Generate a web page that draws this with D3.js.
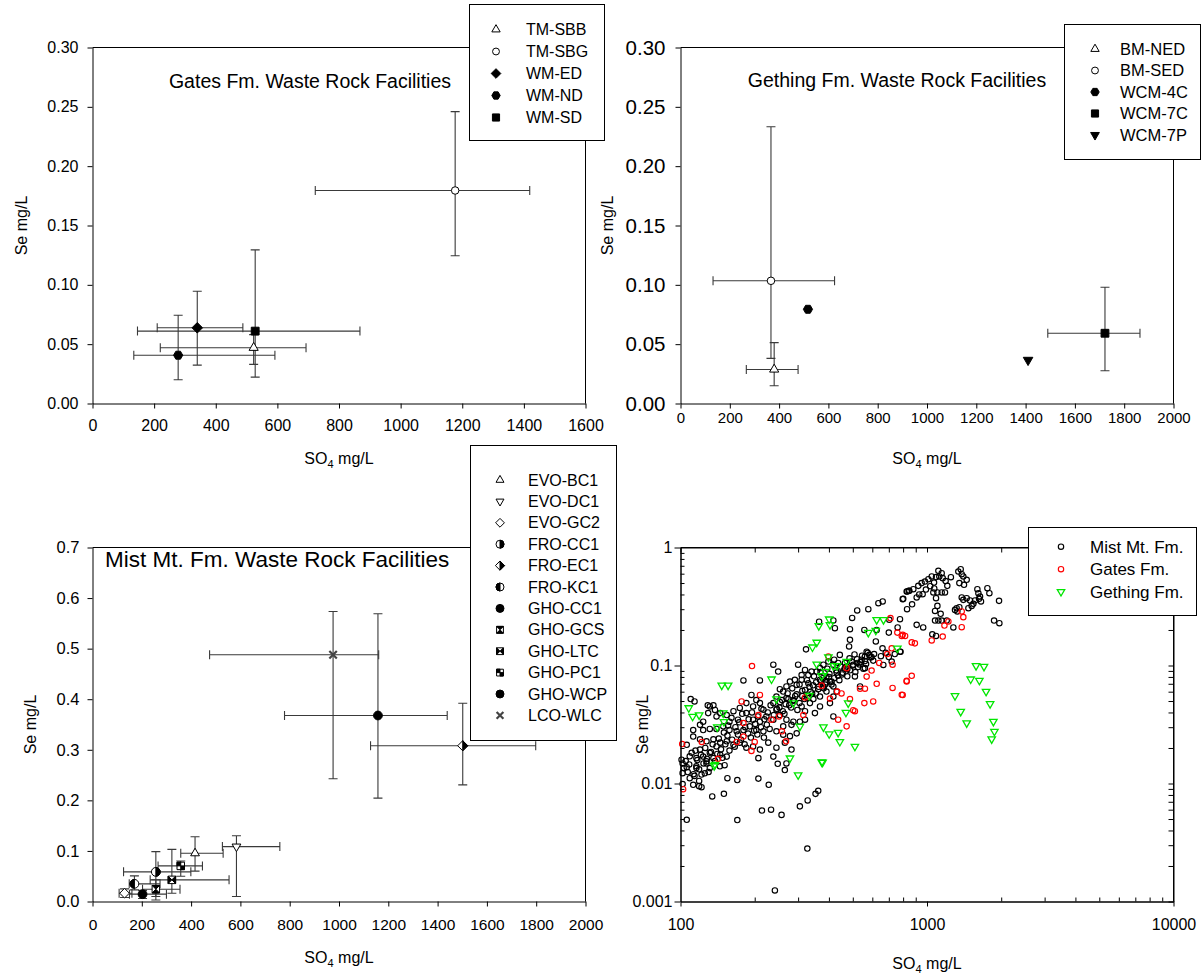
<!DOCTYPE html>
<html><head><meta charset="utf-8">
<script src="https://cdn.jsdelivr.net/npm/d3@7"></script>
<style>
body{margin:0;background:#fff;}
svg text{font-family:Arial,"Liberation Sans",Helvetica,sans-serif;fill:#000;}
</style></head><body>
<script>
// ---------- Gates Fm. waste rock facilities (mean and range) ----------
const gatesSites  = ["TM-SBB","TM-SBG","WM-ED","WM-ND","WM-SD"];
const gatesMarks  = ["triUp","circle","diamondFill","hexFill","squareFill"];
const gatesSO4    = [523, 1177, 340, 278, 528];
const gatesSO4Lo  = [220, 723, 210, 134, 146];
const gatesSO4Hi  = [693, 1419, 488, 592, 868];
const gatesSe     = [0.047, 0.1795, 0.0638, 0.0407, 0.061];
const gatesSeLo   = [0.033, 0.1245, 0.0323, 0.020, 0.0222];
const gatesSeHi   = [0.058, 0.246, 0.0946, 0.0744, 0.1295];

// ---------- Gething Fm. waste rock facilities ----------
const gethingSites = ["BM-NED","BM-SED","WCM-4C","WCM-7C","WCM-7P"];
const gethingMarks = ["triUp","circle","hexFill","squareFill","triDownFill"];
const gethingSO4   = [380, 367, 517, 1722, 1410];
const gethingSO4Lo = [267, 132, null, 1490, null];
const gethingSO4Hi = [477, 625, null, 1864, null];
const gethingSe    = [0.0287, 0.1034, 0.0794, 0.0592, 0.0366];
const gethingSeLo  = [0.0149, 0.038, null, 0.0276, null];
const gethingSeHi  = [0.0513, 0.2332, null, 0.098, null];

// ---------- Mist Mt. Fm. waste rock facilities ----------
const mistSites = ["EVO-BC1","EVO-DC1","EVO-GC2","FRO-CC1","FRO-EC1","FRO-KC1","GHO-CC1","GHO-GCS","GHO-LTC","GHO-PC1","GHO-WCP","LCO-WLC"];
const mistMarks = ["triUp","triDown","diamond","circleHalfR","diamondHalfR","circleHalfL","dot","sqHourglass","sqBowtie","sqChecker","dot","cross"];
const mistSO4   = [416, 584, 130, 257, 1502, 170, 203, 257, 322, 358, 1158, 976];
const mistSO4Lo = [358, 527, 108, 126, 1128, 149, 150, 203, 234, 266, 779, 475];
const mistSO4Hi = [530, 760, 160, 399, 1798, 274, 300, 355, 554, 446, 1439, 1161];
const mistSe    = [0.0954, 0.1086, 0.0164, 0.0586, 0.308, 0.0349, 0.0145, 0.0243, 0.0428, 0.0704, 0.3678, 0.4878];
const mistSeLo  = [0.06, 0.0099, 0.008, 0.003, 0.2307, 0.023, 0.006, 0.0099, 0.0164, 0.05, 0.2044, 0.2426];
const mistSeHi  = [0.128, 0.130, 0.025, 0.0987, 0.392, 0.0507, 0.022, 0.043, 0.103, 0.08, 0.569, 0.5735];

// ---------- individual samples [SO4 mg/L, Se mg/L] ----------
const mistSamples = [
 [832,0.424],[844,0.43],[797,0.365],[661,0.349],[635,0.337],[578,0.30],[521,0.293],[497,0.253],[417,0.241],[423,0.207],
 [365,0.235],[487,0.203],[557,0.2],[625,0.2],[703,0.244],[777,0.247],[781,0.131],[719,0.108],[665,0.101],[560,0.095],
 [487,0.165],[483,0.145],[323,0.137],[569,0.131],[583,0.123],[560,0.119],[596,0.118],[543,0.112],[605,0.11],[521,0.105],
 [502,0.1015],[472,0.098],[443,0.123],[436,0.105],[417,0.1015],[398,0.108],[380,0.1015],[368,0.095],[357,0.0889],[340,0.0889],
 [330,0.083],[320,0.0917],[310,0.083],[310,0.0756],[300,0.1015],[291,0.0756],[278,0.0731],[296,0.0685],[330,0.0706],[368,0.0756],
 [391,0.0807],[404,0.0732],[380,0.0664],[417,0.0664],[391,0.0602],[430,0.0602],[417,0.0546],[368,0.0546],[346,0.052],[335,0.048],
 [368,0.045],[404,0.048],[351,0.0395],[320,0.041],[310,0.045],[287,0.051],[269,0.053],[261,0.0602],[253,0.063],[245,0.0546],
 [269,0.0664],[238,0.048],[245,0.0422],[253,0.038],[269,0.0347],[287,0.0334],[305,0.0334],[320,0.0347],[282,0.0314],[261,0.0305],
 [238,0.0347],[223,0.037],[217,0.0422],[210,0.048],[203,0.051],[194,0.0563],[197,0.045],[185,0.048],[210,0.0334],[197,0.0347],
 [185,0.0395],[174,0.0437],[164,0.041],[171,0.0347],[158,0.0334],[154,0.038],[145,0.0395],[140,0.037],[131.5,0.045],[136,0.046],
 [138,0.042],[129.5,0.0395],[123.6,0.0334],[120,0.0314],[112.6,0.0284],[123.6,0.0284],[131.5,0.029],[140,0.029],[149,0.0305],[158,0.0284],
 [169,0.0277],[180,0.0284],[191,0.0305],[203,0.0284],[217,0.0277],[230,0.029],[245,0.0277],[261,0.0259],[278,0.0252],[296,0.0266],
 [112.6,0.025],[120,0.0237],[127.5,0.0228],[136,0.0237],[145,0.0222],[154,0.0228],[164,0.0213],[174,0.0222],[185,0.0201],[197,0.0206],
 [210,0.0194],[227,0.0222],[245,0.0201],[265,0.0222],[282,0.0194],[207,0.0164],[238,0.0169],[269,0.0148],[106,0.0213],[101,0.0159],
 [102,0.0148],[111,0.0182],[116,0.0164],[123.6,0.0169],[131.5,0.0182],[120,0.0194],[127.5,0.0154],[136,0.0164],[145,0.0175],[154,0.0169],
 [140,0.0206],[116,0.014],[108.5,0.0145],[510,0.0807],[535,0.0664],[417,0.037],[110,0.052],[114,0.0496],[129,0.046],[180,0.0747],
 [210,0.0747],[238,0.1015],[249,0.0889],
 [106,0.00492],[134.5,0.00776],[150,0.00818],[155,0.0111],[170,0.0107],[170,0.0049],[207,0.011],[214,0.0059],[228,0.00975],[233,0.006],
 [257,0.00542],[265,0.013],[248,0.0147],[305,0.0064],[328,0.00718],[353,0.00817],[362,0.00867],[327,0.00281],[241.5,0.00124],[102,0.01224],
 [102,0.0099],[106,0.01375],[109,0.0111],[112.6,0.00975],[114,0.0116],[119,0.0095],[121.7,0.0093],[116,0.0135],[121.7,0.0119],[125.5,0.0122],
 [119,0.0105],[127.5,0.0148],[131.5,0.0135],[144.5,0.014],[151,0.0143],
 [801,0.367],[827,0.424],[848,0.43],[880,0.443],[908,0.377],[922,0.473],[951,0.499],[960,0.402],[981,0.515],[1013,0.539],
 [1045,0.568],[1068,0.505],[1088,0.561],[1112,0.634],[1122,0.568],[1147,0.606],[1158,0.55],[1209,0.473],[1102,0.416],[1061,0.416],
 [1147,0.416],[1183,0.416],[1088,0.372],[1078,0.29],[1102,0.32],[1136,0.274],[1078,0.2405],[1112,0.2405],[1147,0.2405],[1202,0.2405],
 [908,0.221],[965,0.21],[1279,0.21],[1051,0.184],[1088,0.178],[777,0.131],
 [1340,0.626],[1370,0.655],[1383,0.594],[1404,0.568],[1353,0.499],[1413,0.483],[1449,0.532],[1383,0.377],[1404,0.36],[1319,0.306],
 [1299,0.296],[1328,0.287],[1353,0.312],[1449,0.372],[1495,0.356],[1472,0.306],[1518,0.32],[1542,0.333],[1566,0.356],[1601,0.443],
 [1616,0.41],[1641,0.384],[1656,0.349],[1626,0.367],[1758,0.452],[1791,0.41],[1960,0.353],[1871,0.2405],[1966,0.2285],
 [103,0.0135],[105,0.0155],[107,0.0125],[109,0.017],[113,0.012],[115,0.019],[117,0.0158],[119,0.0132],[121,0.0175],[124,0.0148],
 [126,0.02],[128,0.0162],[130,0.0125],[133,0.0185],[135,0.0215],[138,0.0155],[141,0.0178],[143,0.024],[146,0.0195],[148,0.0165],
 [152,0.0215],[155,0.0255],[158,0.019],[162,0.0235],[166,0.0205],[171,0.026],[176,0.0235],[182,0.0215],[188,0.0265],[193,0.0245],
 [199,0.028],[205,0.026],[212,0.03],[218,0.0245],[224,0.0315],
 [252,0.044],[258,0.051],[264,0.039],[272,0.058],[276,0.046],[284,0.064],[292,0.055],[298,0.042],[304,0.069],[312,0.061],
 [318,0.052],[326,0.075],[334,0.066],[342,0.058],[348,0.081],[355,0.072],[362,0.063],[370,0.088],[378,0.078],[386,0.069],
 [394,0.094],[402,0.085],[410,0.073],[420,0.112],[428,0.091],[436,0.082],[446,0.098],[455,0.087],[465,0.105],[475,0.093],
 [485,0.115],[495,0.108],[508,0.124],[520,0.113],[532,0.102],[545,0.121],[560,0.109],[575,0.128],[590,0.117],[610,0.125],
 [150,0.027],[156,0.031],[161,0.036],[167,0.03],[173,0.033],[178,0.039],[183,0.03],[189,0.035],[195,0.04],[201,0.032],
 [206,0.037],[213,0.043],[219,0.035],[226,0.04],[232,0.046],[239,0.038],[246,0.043],[253,0.049],[260,0.041],[267,0.047],
 [274,0.052],[281,0.044],[289,0.05],[296,0.057],[304,0.048],[312,0.055],[320,0.062],[328,0.053],[337,0.06],[345,0.068],
 [354,0.058],[363,0.066],[372,0.074],[381,0.064],[390,0.072],[400,0.08],[410,0.069],[420,0.078],[430,0.087],[441,0.075],
 [452,0.084],[463,0.094],[475,0.081],[487,0.091],[500,0.1],[512,0.088],[525,0.097],[538,0.107],[552,0.094],[566,0.103],
 [650,0.12],[680,0.128],[700,0.118],[740,0.125],[660,0.14],[620,0.16],[700,0.19],[760,0.21],[830,0.3],[870,0.33],
 [930,0.4],[990,0.44],[1030,0.47],[1070,0.45],[1190,0.52],[1250,0.56]
];
const gatesSamples = [
 [101.6,0.0216],[122,0.0225],[142,0.0162],[180,0.0325],[194,0.0189],[180,0.025],[169,0.0225],[177,0.0496],[210,0.0563],[200,0.0225],
 [195,0.099],[207,0.038],[234,0.0347],[251,0.037],[258,0.0277],[268,0.0228],[315,0.038],[320,0.0536],[374,0.0675],[404,0.0524],
 [432,0.0602],[450,0.058],[436,0.0347],[472,0.0305],[487,0.052],[502,0.0418],[510,0.041],[535,0.0636],[560,0.0636],[557,0.048],
 [605,0.0496],[569,0.0805],[596,0.0906],[625,0.07],[725,0.0645],[797,0.0563],[827,0.0732],[719,0.14],[725,0.1015],[758,0.19],
 [797,0.182],[711,0.252],[472,0.095],[398,0.119],[640,0.105],[690,0.125],[102.5,0.00895],
 [790,0.178],[815,0.178],[867,0.157],[893,0.154],[1045,0.163],[1158,0.176],[1177,0.218],[1221,0.236],[1383,0.211],[1383,0.287],
 [1404,0.257],[867,0.0818],[827,0.0741],[790,0.0564]
];
const gethingSamples = [
 [364,0.217],[401,0.247],[404,0.221],[343,0.143],[357,0.157],[357,0.1026],[398,0.118],[417,0.0994],[432,0.0994],[472,0.108],
 [374,0.0818],[387,0.089],[234,0.0766],[147,0.0679],[156,0.0679],[108,0.0437],[112,0.037],[119,0.038],[149,0.0395],[150,0.0334],
 [245,0.052],[287,0.048],[333,0.0555],[305,0.0305],[380,0.0301],[401,0.0263],[436,0.027],[443,0.0226],[510,0.0206],[479,0.048],
 [469,0.04],[278,0.0164],[138,0.0145],[374,0.0152],[141,0.0301],[625,0.244],[666,0.244],[578,0.19],[620,0.198],[758,0.14],
 [137,0.0141],[300,0.0118],[377,0.0151],
 [1581,0.0994],[1703,0.098],[1504,0.0766],[1631,0.0746],[1736,0.0602],[1299,0.0553],[1803,0.0473],[1370,0.0407],[1859,0.0335],[1449,0.0325],
 [1877,0.0276],[1830,0.0238]
];
const formationNames = ["Mist Mt. Fm.","Gates Fm.","Gething Fm."];

// axis ticks
const ticksSO4_1600 = d3.range(0, 1601, 200);
const ticksSO4_2000 = d3.range(0, 2001, 200);
const ticksSe030 = [0, 0.05, 0.10, 0.15, 0.20, 0.25, 0.30];
const ticksSe07  = [0, 0.1, 0.2, 0.3, 0.4, 0.5, 0.6, 0.7];
const logTicksX = [100, 1000, 10000];
const logTicksY = [0.001, 0.01, 0.1, 1];

// ---------------------------------------------------------------
const W = 1204, H = 974;
const svg = d3.select("body").append("svg").attr("width", W).attr("height", H);
const FONT = 'Arial, "Liberation Sans", Helvetica, sans-serif';

// frame geometry of the four plots
const colL = {left: 92.5, right: 585.5};
const colR = {left: 680.5, right: 1173.5};
const rowT = {top: 47.5, bottom: 403.5};
const rowB = {top: 547.5, bottom: 901.5};

// ---------- marker shapes ----------
const P = p => "M" + p.map(q => q[0].toFixed(2) + "," + q[1].toFixed(2)).join("L") + "Z";
const triUp = r => [[0,-r],[0.866*r,0.5*r],[-0.866*r,0.5*r]];
const triDown = r => [[0,r],[0.866*r,-0.5*r],[-0.866*r,-0.5*r]];
const diamond = r => [[0,-r],[r,0],[0,r],[-r,0]];
const hexagon = r => d3.range(6).map(i => [r*Math.cos(i*Math.PI/3), r*Math.sin(i*Math.PI/3)]);
const sq = r => [[-r,-r],[r,-r],[r,r],[-r,r]];
const circ = r => `M${-r},0A${r},${r} 0 1,0 ${r},0A${r},${r} 0 1,0 ${-r},0Z`;
const halfCirc = (r, side) => `M0,${-r}A${r},${r} 0 0,${side > 0 ? 1 : 0} 0,${r}Z`;

function marker(g, type, r) {
  const add = (d, fill) => g.append("path").attr("d", d).attr("fill", fill)
      .attr("stroke", "#000").attr("stroke-width", 1).attr("stroke-linejoin", "miter");
  const s = r * 0.85;
  switch (type) {
    case "triUp": add(P(triUp(r * 1.15)), "#fff"); break;
    case "triDown": add(P(triDown(r * 1.15)), "#fff"); break;
    case "triDownFill": add(P(triDown(r * 1.2)), "#000"); break;
    case "circle": add(circ(r * 0.82), "#fff"); break;
    case "dot": add(circ(r), "#000"); break;
    case "diamond": add(P(diamond(r * 1.1)), "#fff"); break;
    case "diamondFill": add(P(diamond(r * 1.15)), "#000"); break;
    case "diamondHalfR": add(P(diamond(r * 1.15)), "#fff"); add(P([[0,-r*1.15],[r*1.15,0],[0,r*1.15]]), "#000"); break;
    case "hexFill": add(P(hexagon(r)), "#000"); break;
    case "squareFill": add(P(sq(s)), "#000"); break;
    case "circleHalfL": add(circ(r), "#fff"); add(halfCirc(r, -1), "#000"); break;
    case "circleHalfR": add(circ(r), "#fff"); add(halfCirc(r, 1), "#000"); break;
    case "sqHourglass": add(P(sq(s)), "#fff"); add(P([[-s,-s],[s,-s],[0,0]]), "#000"); add(P([[-s,s],[s,s],[0,0]]), "#000"); break;
    case "sqBowtie": add(P(sq(s)), "#fff"); add(P([[-s,-s],[0,0],[-s,s]]), "#000"); add(P([[s,-s],[0,0],[s,s]]), "#000"); break;
    case "sqChecker": add(P(sq(s)), "#fff"); add(P([[-s,-s],[0,-s],[0,0],[-s,0]]), "#000"); add(P([[0,0],[s,0],[s,s],[0,s]]), "#000"); break;
    case "cross":
      g.append("path").attr("d", `M${-s},${-s}L${s},${s}M${-s},${s}L${s},${-s}`)
        .attr("stroke", "#444").attr("stroke-width", 2.2).attr("fill", "none"); break;
  }
}

function styleAxis(g, size) {
  g.attr("font-family", FONT).attr("font-size", size);
  g.selectAll("path.domain").attr("stroke", "#000");
  g.selectAll(".tick line").attr("stroke", "#000");
  g.selectAll(".tick text").attr("fill", "#000");
}

function so4Label(x, y) {
  const t = svg.append("text").attr("x", x).attr("y", y).attr("text-anchor", "middle")
    .attr("font-size", 16);
  t.append("tspan").text("SO");
  t.append("tspan").attr("dy", 4).attr("font-size", 11).text("4");
  t.append("tspan").attr("dy", -4).text(" mg/L");
}
function seLabel(x, y) {
  svg.append("text").attr("transform", `translate(${x},${y}) rotate(-90)`)
    .attr("text-anchor", "middle").attr("dy", "0.35em").attr("font-size", 16).text("Se mg/L");
}

function legendBox(x0, y0, x1, y1) {
  svg.append("rect").attr("x", x0).attr("y", y0).attr("width", x1 - x0).attr("height", y1 - y0)
    .attr("fill", "#fff").attr("stroke", "#000").attr("stroke-width", 1);
}

// ---------- linear panel with mean points and range bars ----------
function rangePanel(o) {
  const x = d3.scaleLinear().domain(o.xDomain).range([o.col.left, o.col.right]);
  const y = d3.scaleLinear().domain(o.yDomain).range([o.row.bottom, o.row.top]);
  const g = svg.append("g");

  // frame
  g.append("path").attr("d", `M${o.col.left},${o.row.top}H${o.col.right}V${o.row.bottom}`)
    .attr("fill", "none").attr("stroke", "#000");

  const ax = g.append("g").attr("transform", `translate(0,${o.row.bottom})`)
    .call(d3.axisBottom(x).tickValues(o.xTicks).tickFormat(d3.format("d")).tickSize(5).tickSizeOuter(0).tickPadding(o.xPad));
  styleAxis(ax, o.xFont);
  const ay = g.append("g").attr("transform", `translate(${o.col.left},0)`)
    .call(d3.axisLeft(y).tickValues(o.yTicks).tickFormat(d3.format(o.yFmt)).tickSize(5).tickSizeOuter(0).tickPadding(o.yPad));
  styleAxis(ay, o.yFont);

  svg.append("text").attr("x", o.titleX).attr("y", o.titleY).attr("text-anchor", o.titleAnchor || "middle")
    .attr("font-size", o.titleSize).text(o.title);

  const bars = g.append("g").attr("stroke", "#3a3a3a").attr("stroke-width", 1.1).attr("fill", "none");
  const cap = 4.5;
  o.sites.forEach((s, i) => {
    const cx = x(o.so4[i]), cy = y(o.se[i]);
    if (o.seLo[i] != null) {
      const a = y(o.seLo[i]), b = y(o.seHi[i]);
      bars.append("path").attr("d", `M${cx},${a}V${b}M${cx-cap},${a}H${cx+cap}M${cx-cap},${b}H${cx+cap}`);
    }
    if (o.so4Lo[i] != null) {
      const a = x(o.so4Lo[i]), b = x(o.so4Hi[i]);
      bars.append("path").attr("d", `M${a},${cy}H${b}M${a},${cy-cap}V${cy+cap}M${b},${cy-cap}V${cy+cap}`);
    }
  });
  o.sites.forEach((s, i) => {
    marker(g.append("g").attr("transform", `translate(${x(o.so4[i])},${y(o.se[i])})`), o.marks[i], o.r);
  });

  // legend
  const L = o.legend;
  legendBox(L.x0, L.y0, L.x1, L.y1);
  o.sites.forEach((s, i) => {
    const yy = L.first + i * L.step;
    marker(svg.append("g").attr("transform", `translate(${L.sx},${yy})`), o.marks[i], L.r);
    svg.append("text").attr("x", L.tx).attr("y", yy).attr("dy", "0.35em").attr("font-size", L.font).text(s);
  });

  so4Label((o.col.left + o.col.right) / 2, o.row.bottom + o.xLabelDy);
  seLabel(o.yLabelX, (o.row.top + o.row.bottom) / 2);
}

rangePanel({
  col: colL, row: rowT, xDomain: [0, 1600], yDomain: [0, 0.30],
  xTicks: ticksSO4_1600, yTicks: ticksSe030, yFmt: ".2f",
  xFont: 16, yFont: 16, xPad: 11, yPad: 9,
  title: "Gates Fm. Waste Rock Facilities", titleX: 310, titleY: 88, titleSize: 19.5,
  sites: gatesSites, marks: gatesMarks, so4: gatesSO4, so4Lo: gatesSO4Lo, so4Hi: gatesSO4Hi,
  se: gatesSe, seLo: gatesSeLo, seHi: gatesSeHi, r: 4.6,
  legend: {x0: 469.5, y0: 4.5, x1: 604.5, y1: 140.5, first: 29.5, step: 22, sx: 496, tx: 526, font: 16, r: 4.2},
  xLabelDy: 60, yLabelX: 21
});

rangePanel({
  col: colR, row: rowT, xDomain: [0, 2000], yDomain: [0, 0.30],
  xTicks: ticksSO4_2000, yTicks: ticksSe030, yFmt: ".2f",
  xFont: 15, yFont: 20.5, xPad: 4, yPad: 10,
  title: "Gething Fm. Waste Rock Facilities", titleX: 897, titleY: 87, titleSize: 19.5,
  sites: gethingSites, marks: gethingMarks, so4: gethingSO4, so4Lo: gethingSO4Lo, so4Hi: gethingSO4Hi,
  se: gethingSe, seLo: gethingSeLo, seHi: gethingSeHi, r: 4.6,
  legend: {x0: 1064.5, y0: 24.5, x1: 1200.5, y1: 159.5, first: 49, step: 21.5, sx: 1095, tx: 1120, font: 16.5, r: 4.2},
  xLabelDy: 60, yLabelX: 607
});

rangePanel({
  col: colL, row: rowB, xDomain: [0, 2000], yDomain: [0, 0.7],
  xTicks: ticksSO4_2000, yTicks: ticksSe07, yFmt: ".1f",
  xFont: 15.5, yFont: 16.5, xPad: 12, yPad: 8,
  title: "Mist Mt. Fm. Waste Rock Facilities", titleX: 105, titleY: 567, titleSize: 22.5, titleAnchor: "start",
  sites: mistSites, marks: mistMarks, so4: mistSO4, so4Lo: mistSO4Lo, so4Hi: mistSO4Hi,
  se: mistSe, seLo: mistSeLo, seHi: mistSeHi, r: 4.4,
  legend: {x0: 470.5, y0: 445.5, x1: 616.5, y1: 740.5, first: 480, step: 21.4, sx: 500, tx: 528, font: 16, r: 4},
  xLabelDy: 61, yLabelX: 30
});

// ---------- log-log panel of all samples ----------
(function () {
  const x = d3.scaleLog().domain([100, 10000]).range([colR.left, colR.right]);
  const y = d3.scaleLog().domain([0.001, 1]).range([rowB.bottom, rowB.top]);
  const g = svg.append("g");
  const minorX = [2,3,4,5,6,7,8,9].flatMap(k => [k * 100, k * 1000]);
  const minorY = [2,3,4,5,6,7,8,9].flatMap(k => [k * 0.001, k * 0.01, k * 0.1]);

  const sets = [
    {name: formationNames[0], pts: mistSamples, color: "#000", kind: "circle"},
    {name: formationNames[1], pts: gatesSamples, color: "#ff0000", kind: "circle"},
    {name: formationNames[2], pts: gethingSamples, color: "#00e600", kind: "tri"}
  ];
  const ptG = g.append("g").attr("fill", "none");
  sets.forEach(s => {
    s.pts.forEach(p => {
      const cx = x(p[0]), cy = y(p[1]);
      if (s.kind === "circle")
        ptG.append("circle").attr("cx", cx).attr("cy", cy).attr("r", 2.7).attr("stroke", s.color).attr("stroke-width", 1.15);
      else
        ptG.append("path").attr("transform", `translate(${cx},${cy})`).attr("d", P(triDown(4.3)))
          .attr("stroke", s.color).attr("stroke-width", 1.3);
    });
  });

  // frame
  g.append("path").attr("d", `M${colR.left},${rowB.top}H${colR.right}V${rowB.bottom}`)
    .attr("fill", "none").attr("stroke", "#000");
  const noLab = () => "";
  const axB = g.append("g").attr("transform", `translate(0,${rowB.bottom})`)
    .call(d3.axisBottom(x).tickValues(logTicksX).tickFormat(d3.format("d")).tickSize(5).tickSizeOuter(0).tickPadding(12));
  styleAxis(axB, 16);
  styleAxis(g.append("g").attr("transform", `translate(0,${rowB.bottom})`)
    .call(d3.axisBottom(x).tickValues(minorX).tickFormat(noLab).tickSize(-4).tickSizeOuter(0)), 10);
  const axL = g.append("g").attr("transform", `translate(${colR.left},0)`)
    .call(d3.axisLeft(y).tickValues(logTicksY).tickFormat(d => String(d)).tickSize(6).tickSizeOuter(0).tickPadding(2));
  styleAxis(axL, 16);
  styleAxis(g.append("g").attr("transform", `translate(${colR.left},0)`)
    .call(d3.axisLeft(y).tickValues(minorY).tickFormat(noLab).tickSize(-4).tickSizeOuter(0)), 10);
  styleAxis(g.append("g").attr("transform", `translate(0,${rowB.top})`)
    .call(d3.axisTop(x).tickValues(logTicksX.concat(minorX)).tickFormat(noLab).tickSize(-5).tickSizeOuter(0)), 10);
  styleAxis(g.append("g").attr("transform", `translate(${colR.right},0)`)
    .call(d3.axisRight(y).tickValues(logTicksY.concat(minorY)).tickFormat(noLab).tickSize(-5).tickSizeOuter(0)), 10);

  // legend
  legendBox(1028.5, 527.5, 1196.5, 615.5);
  sets.forEach((s, i) => {
    const yy = 546.7 + i * 22.5;
    if (s.kind === "circle")
      svg.append("circle").attr("cx", 1061).attr("cy", yy).attr("r", 2.7).attr("fill", "none")
        .attr("stroke", s.color).attr("stroke-width", 1.15);
    else
      svg.append("path").attr("transform", `translate(1061,${yy})`).attr("d", P(triDown(4.3)))
        .attr("fill", "none").attr("stroke", s.color).attr("stroke-width", 1.3);
    svg.append("text").attr("x", 1090).attr("y", yy).attr("dy", "0.35em").attr("font-size", 17).text(s.name);
  });

  so4Label((colR.left + colR.right) / 2, rowB.bottom + 67);
  seLabel(642, (rowB.top + rowB.bottom) / 2);
})();
</script></body></html>
